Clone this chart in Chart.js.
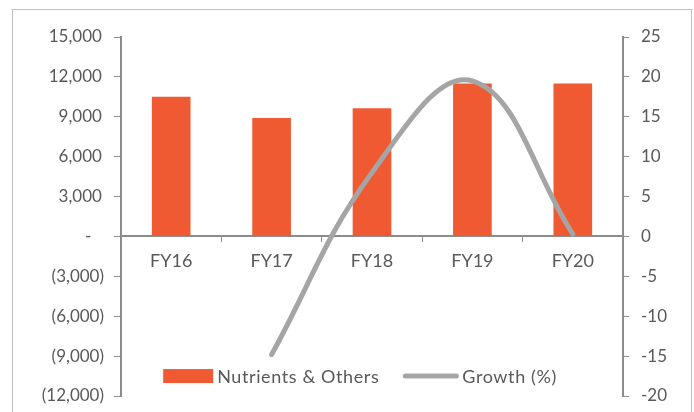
<!DOCTYPE html>
<html>
<head>
<meta charset="utf-8">
<script src="https://cdn.jsdelivr.net/npm/chart.js@4.4.1/dist/chart.umd.min.js"></script>
<style>
  html, body { margin: 0; padding: 0; background: #ffffff; }
  #wrap { width: 694px; height: 412px; position: relative; }
</style>
</head>
<body>
<div id="wrap"><canvas id="c" width="694" height="412"></canvas></div>
<script>
// Fiscal years on the category axis
const years = ['FY16', 'FY17', 'FY18', 'FY19', 'FY20'];
// Segment revenue (left axis)
const nutrients = [10500, 8900, 9650, 11500, 11500];
// Year-on-year growth in percent (right axis); no prior year for FY16
const growth = [null, -14.8, 8, 19.5, 0.3];
// Left and right axis ranges
const leftAxis = { min: -12000, max: 15000, step: 3000 };
const rightAxis = { min: -20, max: 25, step: 5 };

const seriesNames = ['Nutrients & Others', 'Growth (%)'];

const BAR = '#F05A32';
const LINE = '#A5A5A5';
const AXIS = '#8C8C8C';
const TEXT = '#595959';
const FONT = 'Lato, "Open Sans", sans-serif';

function thousands(v) {
  return Math.abs(v).toString().replace(/\B(?=(\d{3})+(?!\d))/g, ',');
}

// Accounting-style labels: dash for zero, parentheses for negatives
function leftLabel(v) {
  if (v === 0) return '-\u2003';
  if (v < 0) return '(' + thousands(v) + ')';
  return thousands(v) + '\u2009';
}

// Vertical axes: fixed width, and no extra room reserved above/below
function fixedWidth(w) {
  return function (s) {
    s.width = w;
    s.paddingTop = 0;
    s.paddingBottom = 0;
  };
}

// Outer frame around the figure
const framePlugin = {
  id: 'frame',
  beforeDraw(chart) {
    const ctx = chart.ctx;
    ctx.save();
    ctx.strokeStyle = '#BFBFBF';
    ctx.lineWidth = 1;
    ctx.strokeRect(12.5, 9.5, 679, 420);
    ctx.restore();
  }
};

// Legend drawn inside the plot area, near the bottom
const innerLegend = {
  id: 'innerLegend',
  afterDatasetsDraw(chart) {
    const ctx = chart.ctx;
    const area = chart.chartArea;
    const y = chart.scales.y.getPixelForValue(-10500);
    ctx.save();
    ctx.font = '18px ' + FONT;
    ctx.letterSpacing = '0.6px';
    ctx.textBaseline = 'middle';
    ctx.fillStyle = TEXT;
    const boxW = 50, boxH = 14, lineW = 55, gapTxt = 4, gapItem = 24;
    const w1 = ctx.measureText(seriesNames[0]).width;
    const w2 = ctx.measureText(seriesNames[1]).width;
    const total = boxW + gapTxt + w1 + gapItem + lineW + gapTxt + w2;
    let x = (area.left + area.right) / 2 - 12 - total / 2;
    ctx.fillStyle = BAR;
    ctx.fillRect(x, y - boxH / 2, boxW, boxH);
    x += boxW + gapTxt;
    ctx.fillStyle = TEXT;
    ctx.fillText(seriesNames[0], x, y + 1);
    x += w1 + gapItem;
    ctx.strokeStyle = LINE;
    ctx.lineWidth = 5;
    ctx.lineCap = 'round';
    ctx.beginPath();
    ctx.moveTo(x + 2, y);
    ctx.lineTo(x + lineW - 2, y);
    ctx.stroke();
    x += lineW + gapTxt;
    ctx.fillStyle = TEXT;
    ctx.fillText(seriesNames[1], x, y + 1);
    ctx.restore();
  }
};

new Chart(document.getElementById('c'), {
  data: {
    labels: years,
    datasets: [
      {
        type: 'line',
        label: seriesNames[1],
        data: growth,
        yAxisID: 'y1',
        borderColor: LINE,
        borderWidth: 5,
        borderCapStyle: 'round',
        tension: 0.4,
        pointRadius: 0,
        fill: false,
        order: 0
      },
      {
        type: 'bar',
        label: seriesNames[0],
        data: nutrients,
        yAxisID: 'y',
        backgroundColor: BAR,
        borderWidth: 0,
        categoryPercentage: 1,
        barPercentage: 0.385,
        order: 1
      }
    ]
  },
  options: {
    responsive: false,
    animation: false,
    events: [],
    layout: { padding: { top: 37, bottom: 16, left: 0, right: 0 } },
    plugins: { legend: { display: false }, tooltip: { enabled: false } },
    scales: {
      x: {
        position: { y: 0 },
        offset: true,
        grid: { display: true, drawOnChartArea: false, drawTicks: true, tickLength: 5, color: AXIS, offset: true },
        border: { display: true, color: AXIS, width: 2 },
        ticks: { color: TEXT, font: { family: FONT, size: 18 }, padding: 9 },
        afterFit(s) { s.height = 0; }
      },
      y: {
        position: 'left',
        min: leftAxis.min,
        max: leftAxis.max,
        grid: { display: true, drawOnChartArea: false, drawTicks: true, tickLength: 7, color: AXIS },
        border: { display: true, color: AXIS, width: 2 },
        ticks: {
          stepSize: leftAxis.step,
          color: TEXT,
          font: { family: FONT, size: 17 },
          padding: 10,
          callback: v => leftLabel(v)
        },
        afterFit: fixedWidth(121)
      },
      y1: {
        position: 'right',
        min: rightAxis.min,
        max: rightAxis.max,
        grid: { display: true, drawOnChartArea: false, drawTicks: true, tickLength: 6, color: AXIS },
        border: { display: true, color: AXIS, width: 2 },
        ticks: {
          stepSize: rightAxis.step,
          color: TEXT,
          font: { family: FONT, size: 17 },
          padding: 12
        },
        afterFit: fixedWidth(71)
      }
    }
  },
  plugins: [framePlugin, innerLegend]
});
</script>
</body>
</html>
